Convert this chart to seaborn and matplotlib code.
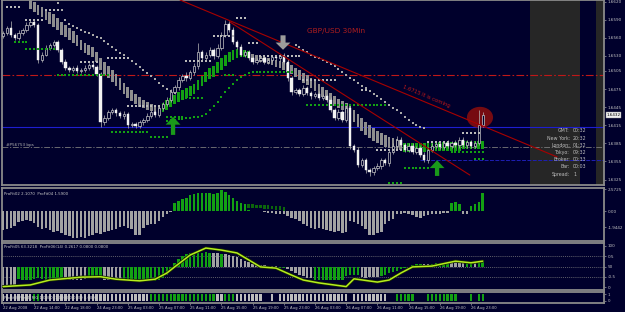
import numpy as np
import matplotlib
matplotlib.use('Agg')
import matplotlib.pyplot as plt
import seaborn as sns
from matplotlib.patches import Ellipse, FancyArrow
import matplotlib.transforms as mtrans

sns.set_style('dark')
plt.rcParams['font.family'] = ['DejaVu Sans']

# ---------------- DATA ----------------
opens = [1.6563,1.6568,1.6576,1.6565,1.6560,1.6568,1.6573,1.6581,1.6586,1.6581,
 1.6523,1.6532,1.6543,1.6548,1.6553,1.6540,1.6520,1.6510,1.6507,1.6510,
 1.6505,1.6507,1.6510,1.6515,1.6512,1.6500,1.6420,1.6427,1.6437,1.6440,
 1.6435,1.6430,1.6434,1.6415,1.6417,1.6414,1.6420,1.6424,1.6430,1.6437,
 1.6432,1.6444,1.6450,1.6457,1.6470,1.6478,1.6490,1.6497,1.6493,1.6503,
 1.6513,1.6536,1.6526,1.6532,1.6540,1.6530,1.6543,1.6565,1.6583,1.6573,
 1.6553,1.6545,1.6532,1.6536,1.6526,1.6520,1.6523,1.6526,1.6520,1.6523,
 1.6528,1.6526,1.6530,1.6520,1.6493,1.6470,1.6473,1.6467,1.6477,1.6468,
 1.6463,1.6467,1.6460,1.6463,1.6457,1.6440,1.6427,1.6437,1.6424,1.6444,
 1.6381,1.6374,1.6349,1.6357,1.6341,1.6337,1.6344,1.6347,1.6357,1.6352,
 1.6371,1.6381,1.6391,1.6382,1.6374,1.6381,1.6371,1.6377,1.6366,1.6357,
 1.6374,1.6381,1.6384,1.6379,1.6386,1.6381,1.6386,1.6382,1.6391,1.6382,
 1.6387,1.6381,1.6386,1.6415]
closes = [1.6568,1.6576,1.6565,1.6560,1.6568,1.6573,1.6581,1.6586,1.6581,1.6523,
 1.6532,1.6543,1.6548,1.6553,1.6540,1.6520,1.6510,1.6507,1.6510,1.6505,
 1.6507,1.6510,1.6515,1.6512,1.6500,1.6420,1.6427,1.6437,1.6440,1.6435,
 1.6430,1.6434,1.6415,1.6417,1.6414,1.6420,1.6424,1.6430,1.6437,1.6432,
 1.6444,1.6450,1.6457,1.6470,1.6478,1.6490,1.6497,1.6493,1.6503,1.6513,
 1.6536,1.6526,1.6532,1.6540,1.6530,1.6543,1.6565,1.6583,1.6573,1.6553,
 1.6545,1.6532,1.6536,1.6526,1.6520,1.6523,1.6526,1.6520,1.6523,1.6528,
 1.6526,1.6530,1.6520,1.6493,1.6470,1.6473,1.6467,1.6477,1.6468,1.6463,
 1.6467,1.6460,1.6463,1.6457,1.6440,1.6427,1.6437,1.6424,1.6444,1.6381,
 1.6374,1.6349,1.6357,1.6341,1.6337,1.6344,1.6347,1.6357,1.6352,1.6371,
 1.6381,1.6391,1.6382,1.6374,1.6381,1.6371,1.6377,1.6366,1.6357,1.6374,
 1.6381,1.6384,1.6379,1.6386,1.6381,1.6386,1.6382,1.6391,1.6382,1.6387,
 1.6381,1.6386,1.6415,1.6432]
wick_up_pips = [3,4,12,3,4,3,5,4,3,3, 4,5,3,4,3,3,4,3,3,4, 3,4,3,4,3,4,5,3,4,3,
 3,4,3,4,3,4,3,5,4,3, 4,3,4,5,4,5,3,6,4,5, 15,4,5,4,3,6,4,7,5,4,
 3,4,3,4,3,4,3,3,4,3, 4,3,4,5,4,3,4,5,3,4, 3,4,3,4,5,4,5,3,4,4,
 3,5,4,4,3,4,5,4,3,4, 5,6,4,3,4,5,4,3,4,5, 4,3,4,3,4,3,4,5,4,3, 4,3,25,5]
wick_dn_pips = [3,4,3,4,3,3,4,3,3,5, 4,3,4,3,4,3,4,3,4,3, 3,4,3,3,3,8,4,3,3,4,
 3,4,5,3,4,3,4,3,3,4, 3,4,3,4,3,4,3,4,3,4, 4,5,3,4,5,3,4,3,4,3,
 4,3,4,3,4,3,4,3,3,4, 3,4,3,4,5,4,3,4,3,4, 3,4,3,4,3,4,3,4,3,5,
 4,4,3,5,6,4,3,4,3,4, 3,4,3,4,3,4,3,4,3,4, 3,4,3,4,3,4,3,4,3,4, 3,4,3,3]

# trend band (smoothed blocks)
band_start = 7
band_top = [1.6622,1.6619,1.6614,1.6611,1.6606,1.6603,1.6599,1.6593,1.6586,1.6581,1.6576,1.6571,
 1.6565,1.6556,1.6551,1.6548,1.6545,1.6536,1.6526,1.6520,1.6513,1.6507,1.6500,1.6493,1.6485,
 1.6478,1.6473,1.6467,1.6462,1.6457,1.6454,1.6450,1.6447,1.6445,
 1.6452,1.6457,1.6460,1.6465,1.6470,1.6473,1.6477,1.6480,1.6483,1.6490,1.6497,1.6503,1.6510,
 1.6513,1.6520,1.6526,1.6531,1.6536,1.6540,1.6541,1.6541,1.6540,1.6538,
 1.6533,1.6531,1.6530,1.6528,1.6526,1.6525,1.6523,1.6521,1.6520,1.6518,1.6515,1.6510,1.6507,
 1.6502,1.6498,1.6493,1.6488,1.6483,1.6478,1.6473,1.6468,1.6463,1.6459,1.6455,1.6452,1.6447,
 1.6440,1.6434,1.6427,1.6420,1.6415,1.6410,1.6405,1.6402,1.6399,1.6396,1.6394,1.6392,1.6391,
 1.6386,1.6386,1.6386,1.6386,1.6386,1.6386,1.6386,1.6386,1.6387,1.6387,1.6387,1.6387,1.6387,
 1.6387,1.6387,1.6389,1.6389,1.6389,1.6389,1.6389,1.6389]
band_bot = [1.6608,1.6603,1.6598,1.6594,1.6589,1.6583,1.6578,1.6573,1.6565,1.6561,1.6556,1.6551,
 1.6546,1.6540,1.6535,1.6531,1.6528,1.6520,1.6507,1.6498,1.6493,1.6487,1.6480,1.6473,1.6467,
 1.6460,1.6455,1.6450,1.6445,1.6444,1.6440,1.6439,1.6437,1.6435,
 1.6437,1.6440,1.6445,1.6450,1.6454,1.6457,1.6460,1.6463,1.6467,1.6473,1.6480,1.6487,1.6492,
 1.6495,1.6502,1.6507,1.6513,1.6520,1.6523,1.6526,1.6528,1.6528,1.6526,
 1.6523,1.6521,1.6520,1.6518,1.6516,1.6515,1.6512,1.6510,1.6507,1.6503,1.6500,1.6495,1.6490,
 1.6485,1.6482,1.6477,1.6472,1.6467,1.6462,1.6457,1.6452,1.6447,1.6444,1.6440,1.6435,1.6429,
 1.6420,1.6412,1.6405,1.6399,1.6394,1.6389,1.6386,1.6382,1.6379,1.6377,1.6376,1.6374,1.6374,
 1.6371,1.6371,1.6371,1.6371,1.6371,1.6371,1.6371,1.6371,1.6372,1.6372,1.6372,1.6372,1.6372,
 1.6372,1.6372,1.6375,1.6375,1.6375,1.6375,1.6375,1.6375]
band_col = 'k' * 34 + 'g' * 23 + 'k' * 39 + 'g' * 21

# trailing stop dots
gray_stop1_start = 14
gray_stop1 = [1.6617,1.6606,1.6589,1.6583,1.6579,1.6576,1.6573,1.6569,1.6568,1.6565,1.6561,1.6560,
 1.6555,1.6550,1.6545,1.6540,1.6535,1.6531,1.6526,1.6521,1.6516,1.6511,1.6507,1.6502,1.6497,
 1.6492,1.6485,1.6480,1.6475,1.6472,1.6468]
green_stop1_start = 42
green_stop1 = [1.6422,1.6424,1.6424,1.6425,1.6425,1.6427,1.6427,1.6429,1.6429,1.6430,1.6434,1.6440,
 1.6447,1.6454,1.6462,1.6470,1.6477,1.6483,1.6490,1.6495,1.6498,1.6502,1.6503,1.6503,1.6503,
 1.6503,1.6503,1.6503,1.6503,1.6503,1.6503,1.6503,1.6503]
gray_stop2_start = 75
gray_stop2 = [1.6548,1.6545,1.6540,1.6536,1.6531,1.6528,1.6526,1.6523,1.6520,1.6516,1.6513,1.6508,
 1.6503,1.6498,1.6493,1.6490,1.6485,1.6480,1.6477,1.6472,1.6467,1.6463,1.6459,1.6454,1.6449,
 1.6444,1.6440,1.6435,1.6429,1.6424,1.6419,1.6415,1.6412,1.6410]

# horizontal dotted levels (bar from, bar to, price)
gray_lvl_from = [1, 6, 11, 20, 27, 32, 47, 54, 60, 63, 66, 77, 92, 96, 109, 118]
gray_lvl_to = [4, 10, 14, 24, 32, 40, 53, 59, 62, 65, 76, 85, 93, 102, 114, 122]
gray_lvl_price = [1.6611, 1.6589, 1.6606, 1.6520, 1.6526, 1.6447, 1.6521, 1.6563, 1.6593,
                  1.6551, 1.6530, 1.6490, 1.6473, 1.6374, 1.6387, 1.6402]
green_lvl_from = [3, 6, 14, 28, 38, 42, 46, 57, 78, 99, 103, 115, 121]
green_lvl_to = [6, 13, 27, 37, 42, 46, 51, 59, 98, 102, 109, 123, 123]
green_lvl_price = [1.6553, 1.6541, 1.6498, 1.6404, 1.6395, 1.6429, 1.6460, 1.6498, 1.6449,
                   1.6319, 1.6344, 1.6371, 1.6359]

# horizontal lines
red_level = 1.6498
blue_level = 1.6412
gray_level = 1.6379
blue_dash_level = 1.6357
blue_dash_from = 107

# trend lines (bar, price) pairs
trend_a_x = [45.4, 142.1]
trend_a_y = [1.66225, 1.63624]
trend_b_x = [58.2, 119.7]
trend_b_y = [1.6586, 1.63325]

# arrows (bar, tail price, tip price)
down_arrow = (71.8, 1.6564, 1.6540)
up_arrows = [(43.6, 1.6399, 1.6429), (111.3, 1.6331, 1.6357)]
circle_mark = (122.3, 1.6428)

price_ticks = [1.6620, 1.6590, 1.6560, 1.6530, 1.6505, 1.6475, 1.6445, 1.6415, 1.6385, 1.6355, 1.6325]
last_price = 1.6432

info_labels = ["GMT:", "New York:", "London:", "Tokyo:", "Broker:", "Bar:", "Spread:"]
info_values = ["00:32", "20:32", "01:32", "09:32", "00:33", "00:03", "1"]

# panel 2 histogram
hist_vals = [-2.3,-2.2,-2.0,-1.8, -1.3,-1.2,-1.1,-1.2,-1.4, -1.9,-2.1,-2.0,
 -2.3,-2.5,-2.4,-2.6,-2.8, -3.0,-3.2,-3.2,-3.1,-3.2,-3.0,-2.8, -2.6,-2.7,-2.5,-2.4,-2.3,-2.1,
 -1.9,-1.8,-2.0,-2.2, -2.8,-2.9, -2.0,-1.7,-1.6,-1.5,-1.2, -0.7,-0.4,-0.1,
 1.0,1.2,1.4,1.6,1.9,2.0,2.1,2.2,2.1,2.2,2.0,2.1,2.5,2.3,1.9,1.6,1.2,0.9,0.8,
 0.1,0.05,0.0,-0.05,-0.1, -0.2,-0.25,-0.3,-0.3,-0.4,
 -0.6,-0.8,-1.0,-1.2,-1.5,-1.8,-2.0,-2.1, -2.0,-2.2,-2.3,-2.4,-2.5,-2.4,-2.6,-2.5,
 -1.2,-1.3,-1.5,-1.8, -2.2,-2.8,-2.9,-2.6,-2.5, -1.6,-1.2,-0.9,-0.4, -0.3,-0.2,
 -0.3,-0.5,-0.7,-0.8,-0.6,-0.5,-0.4,-0.3,-0.3,-0.2,-0.2,
 0.9,1.1,0.8, -0.3,-0.3, 0.6,0.8,1.1, 2.1]
hist2_start = 58
hist2_vals = [1.0,0.95,0.9,0.9,0.85,0.8,0.8,0.75,0.75,0.7,0.7,0.65,0.6,0.55,0.5]

# panel 3 oscillator bars and line
osc_vals = [5,3,2,5, 20,18,17,18,20,22,20,18,17,18,20,21, 18,17,16,17,18,19, 23,24,24,22,
 18,17,16,17,18, 16,15,15,14,15,16,15,14,15,18,22,30,40, 58,68,75,80,83,84,85,84,85,83,
 84,83, 81, 80,78,75,72,68,64,60,57,55,54,53,52,52,51, 47,46, 44,40,35,30,26,23,21,
 18,17,17,18,17,16,17,18,28,29,30,29, 24,23,24,25,24,
 26,30,33,36,40,43,46,49,54,55,56, 55,56, 57,58,58,59,60, 61,61,60,60, 59,61, 60, 63,66]
osc_col = ('kkkk' + 'g' * 12 + 'k' * 6 + 'g' * 4 + 'k' * 5 + 'g' * 13 + 'g' * 10 + 'kk' + 'g'
           + 'k' * 14 + 'gg' + 'k' * 7 + 'g' * 12 + 'k' * 5 + 'g' * 11 + 'kk' + 'g' * 5
           + 'kkkk' + 'gg' + 'k' + 'gg')
line_idx = [0,7,12,20,25,29,35,39,42,44,48,52,56,60,63,66,70,74,77,81,88,90,96,99,102,105,110,116,120,123]
line_val = [1,5,17,24,25,19,15,19,34,49,78,95,90,83,66,49,46,29,17,10,1,20,12,17,34,49,51,63,59,63]

# panel 4 state bars
state = ('k' * 8 + 'gg' + 'k' * 28 + 'g' * 17 + 'kk' + 'ggg' + 'k' * 7 + '..' + 'k' + '.'
         + 'k' * 18 + '.' + 'k' * 9 + '..' + 'g' * 5 + '...' + 'g' * 8 + '...' + 'g' + '.' + 'gg')

time_tick_idx = list(range(0, 121, 8))
time_labels = ["22 Aug 2008", "22 Aug 14:00", "22 Aug 18:00", "24 Aug 23:00", "25 Aug 03:00",
               "25 Aug 07:00", "25 Aug 11:00", "25 Aug 15:00", "25 Aug 19:00", "25 Aug 23:00",
               "26 Aug 03:00", "26 Aug 07:00", "26 Aug 11:00", "26 Aug 15:00", "26 Aug 19:00",
               "26 Aug 23:00"]

# ---------------- STYLE ----------------
BG = '#00002c'
FRAME = '#8a8a8a'
TXT = '#c4c4c4'
GREEN = '#13a013'
GRAY = '#a2a2a2'

W, H = 625, 312
fig = plt.figure(figsize=(W / 100, H / 100), dpi=100, facecolor=BG)

def ax_at(y0, y1, x0=2, x1=604):
    a = fig.add_axes([x0 / W, 1 - y1 / H, (x1 - x0) / W, (y1 - y0) / H])
    a.set_facecolor(BG)
    for s in a.spines.values():
        s.set_color(FRAME)
        s.set_linewidth(1.3)
    a.grid(False)
    a.yaxis.tick_right()
    a.tick_params(axis='y', labelsize=3.0, colors=TXT, length=1.5, width=0.4, pad=1)
    a.tick_params(axis='x', bottom=False, labelbottom=False)
    return a

XL = (-0.26, 154.1)
ax = ax_at(0, 185)
ax2 = ax_at(188, 241)
ax3 = ax_at(243, 290)
ax4 = ax_at(292, 303)
for a in (ax, ax2, ax3, ax4):
    a.set_xlim(*XL)

# ---------------- MAIN PANEL ----------------
ax.set_ylim(1.6316, 1.66225)
n = len(closes)
x = np.arange(n)

# info (future) area
ax.axvspan(135.1, 147.9, color='#262626', zorder=0.5, lw=0)
ax.axvspan(152.1, 154.1, color='#262626', zorder=0.5, lw=0)

# horizontal lines
ax.axhline(red_level, color='#c01818', lw=0.8, ls=(0, (7, 2, 1.5, 2)), zorder=1)
ax.axhline(blue_level, color='#1e1ed0', lw=0.8, zorder=1)
ax.axhline(gray_level, color='#7a7a7a', lw=0.6, ls=(0, (7, 2, 1.5, 2)), zorder=1)
ax.hlines(blue_dash_level, blue_dash_from, XL[1], color='#1e1eb4', lw=0.7, ls=(0, (4, 1.5)), zorder=1)

# red circle
ax.add_patch(Ellipse(circle_mark, width=6.7, height=0.0035, color='#8c0d0d', alpha=0.85, lw=0, zorder=2))

# trend band blocks
bi = np.arange(band_start, band_start + len(band_top))
bt = np.array(band_top); bb = np.array(band_bot)
bc = np.array([GREEN if ch == 'g' else '#8e8e8e' for ch in band_col])
ax.bar(bi, bt - bb, bottom=bb, width=0.7, color=bc, lw=0, zorder=3)

# candles
o = np.array(opens); c = np.array(closes)
hi = np.maximum(o, c) + np.array(wick_up_pips) / 1e4
lo = np.minimum(o, c) - np.array(wick_dn_pips) / 1e4
ax.vlines(x, lo, hi, color='#b8b8b8', lw=0.5, zorder=4)
bull = c >= o
body = np.maximum(np.abs(c - o), 0.00006)
bot = np.minimum(o, c)
ax.bar(x[bull], body[bull], bottom=bot[bull], width=0.62, color=BG, edgecolor='#c8c8c8', lw=0.5, zorder=5)
ax.bar(x[~bull], body[~bull], bottom=bot[~bull], width=0.62, color='#f2f2f2', edgecolor='#f2f2f2', lw=0.3, zorder=5)

# trailing stop dots
def dots(start, vals, color, s):
    xi = np.arange(start, start + len(vals))
    sns.scatterplot(x=xi, y=vals, marker='s', s=s, color=color, linewidth=0, ax=ax, zorder=6, legend=False)

dots(gray_stop1_start, gray_stop1, '#a8a8a8', 4.5)
dots(gray_stop2_start, gray_stop2, '#a8a8a8', 4.5)
dots(green_stop1_start, green_stop1, GREEN, 4.5)

# dotted levels
for a0, a1, p in zip(gray_lvl_from, gray_lvl_to, gray_lvl_price):
    xi = np.arange(a0, a1 + 1)
    sns.scatterplot(x=xi, y=[p] * len(xi), marker='s', s=2.0, color='#b9b9b9', linewidth=0, ax=ax, zorder=6, legend=False)
for a0, a1, p in zip(green_lvl_from, green_lvl_to, green_lvl_price):
    xi = np.arange(a0, a1 + 1)
    sns.scatterplot(x=xi, y=[p] * len(xi), marker='s', s=2.0, color=GREEN, linewidth=0, ax=ax, zorder=6, legend=False)

# trend lines
ax.plot(trend_a_x, trend_a_y, color='#a80000', lw=0.8, zorder=7)
ax.plot(trend_b_x, trend_b_y, color='#a80000', lw=0.8, zorder=7)

# arrows
dx, t0, t1 = down_arrow
ax.add_patch(FancyArrow(dx, t0, 0, t1 - t0, width=1.3, head_width=3.8, head_length=0.0012,
                        length_includes_head=True, color='#9c9c9c', lw=0, zorder=8))
for ux, u0, u1 in up_arrows:
    ax.add_patch(FancyArrow(ux, u0, 0, u1 - u0, width=1.1, head_width=3.8, head_length=0.0013,
                            length_includes_head=True, color='#1a9a1a', lw=0, zorder=8))

# texts
ax.text(0.555, 0.832, 'GBP/USD 30Min', transform=ax.transAxes, color='#b01e1e', fontsize=5.3,
        ha='center', va='center', zorder=9)
ax.text(108.5, 1.6462, '1.6715 It is coming', color='#c01818', fontsize=3.8, rotation=-22.6,
        rotation_mode='anchor', ha='center', va='center', zorder=9)
ax.text(0.006, 1 - 145 / 185, '#P56753 bps', transform=ax.transAxes, color='#b0b0b0', fontsize=3.0,
        ha='left', va='center', zorder=9)
for k, (lab, val) in enumerate(zip(info_labels, info_values)):
    yy = 1 - (131 + 7.2 * k) / 185
    ax.text((570 - 2) / 602, yy, lab, transform=ax.transAxes, color='#bdbdbd', fontsize=3.4, ha='right', va='center', zorder=9)
    ax.text((573 - 2) / 602, yy, val, transform=ax.transAxes, color='#bdbdbd', fontsize=3.4, ha='left', va='center', zorder=9)

ax.set_yticks(price_ticks)
ax.set_yticklabels([f'{p:.4f}' for p in price_ticks])
tr = mtrans.blended_transform_factory(ax.transAxes, ax.transData)
ax.text(1.004, last_price, f'{last_price:.4f}', transform=tr, fontsize=3.0, color='#000000', ha='left', va='center',
        bbox=dict(boxstyle='square,pad=0.15', fc='#f0f0f0', ec='#909090', lw=0.3), zorder=10, clip_on=False)

# ---------------- PANEL 2 ----------------
ax2.set_ylim(-3.57, 2.74)
hv = np.array(hist_vals)
hc = np.where(hv > 0, GREEN, GRAY)
h2x = np.arange(hist2_start, hist2_start + len(hist2_vals))
h2 = np.array(hist2_vals)
ax2.bar(h2x, 0.45, bottom=h2 - 0.45, width=0.65, color='#0c660c', lw=0, zorder=2)
ax2.bar(x, hv, width=0.65, color=hc, lw=0, zorder=3)
ax2.set_yticks([2.5725, 0.0, -1.9442])
ax2.set_yticklabels(['2.5725', '0.00', '-1.9442'])
ax2.text(0.004, 0.93, 'ProFit02 2.1070  ProFit04 1.5900', transform=ax2.transAxes, color='#c8c8c8',
         fontsize=2.8, ha='left', va='top', zorder=5)

# ---------------- PANEL 3 ----------------
ax3.set_ylim(-7.3, 107.3)
ov = np.array(osc_vals, dtype=float)
oc = [GREEN if ch == 'g' else GRAY for ch in osc_col]
for lv in (75, 50, 25):
    ax3.axhline(lv, color='#808080', lw=0.5, ls=(0, (1.5, 1.5)), zorder=1)
ax3.bar(x, ov - 50, bottom=50, width=0.65, color=oc, lw=0, zorder=2)
sns.lineplot(x=line_idx, y=line_val, color='#1a2a00', lw=2.2, ax=ax3, zorder=3, legend=False)
sns.lineplot(x=line_idx, y=line_val, color='#b4ee1e', lw=1.1, ax=ax3, zorder=4, legend=False)
ax3.set_yticks([100, 75, 50, 25, 0])
ax3.set_yticklabels(['100', '0.5', '50', '-0.5', '0'])
ax3.text(0.004, 0.96, 'ProFit05 63.3218  ProFit06(14) 0.2617 0.0800 0.0800', transform=ax3.transAxes,
         color='#c8c8c8', fontsize=2.8, ha='left', va='top', zorder=5)

# ---------------- PANEL 4 ----------------
ax4.set_ylim(-0.3, 1.3)
sx = np.array([i for i, ch in enumerate(state) if ch != '.'])
scol = [GREEN if state[i] == 'g' else '#bdbdbd' for i in sx]
ax4.bar(sx, 1.0, bottom=0, width=0.6, color=scol, lw=0, zorder=2)
ax4.set_yticks([1, 0])
ax4.set_yticklabels(['1', '0'])
ax4.tick_params(axis='y', labelsize=2.8)
ax4.text(0.004, 0.5, 'ProFit08Prev4_RIG 1.0000  1.0000 0.0000 0.0000', transform=ax4.transAxes,
         color='#d0d0d0', fontsize=2.7, ha='left', va='center', zorder=5)
ax4.set_xticks(time_tick_idx)
ax4.set_xticklabels(time_labels, ha='left')
ax4.tick_params(axis='x', bottom=True, labelbottom=True, labelsize=2.7, colors=TXT, length=1.5,
                width=0.4, pad=0.8, direction='out')

for a in (ax, ax2, ax3, ax4):
    a.set_xlabel('')
    a.set_ylabel('')

fig.savefig('out.png', dpi=100, facecolor=BG)
